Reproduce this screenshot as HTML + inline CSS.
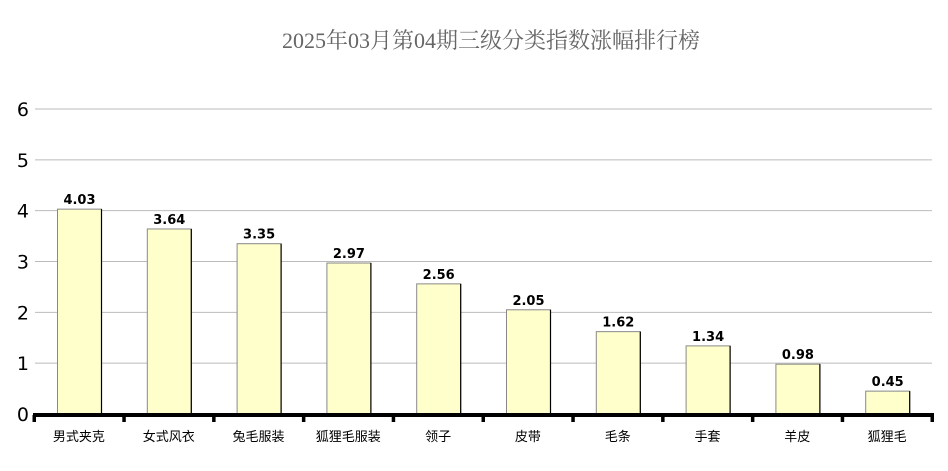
<!DOCTYPE html>
<html><head><meta charset="utf-8"><style>
body{margin:0;background:#fff;}
svg{display:block;font-family:"Liberation Sans","Noto Sans CJK SC",sans-serif;}
</style></head><body>
<svg width="948" height="471">
<text x="491" y="48" text-anchor="middle" font-size="22" fill="#666" font-family="'Liberation Serif','Noto Serif CJK SC',serif">2025年03月第04期三级分类指数涨幅排行榜</text>
<g id="grid"></g><g id="bars"></g><g id="axis"></g>
</svg>
<script>
const categories=["男式夹克","女式风衣","兔毛服装","狐狸毛服装","领子","皮带","毛条","手套","羊皮","狐狸毛"];
const values=[4.03,3.64,3.35,2.97,2.56,2.05,1.62,1.34,0.98,0.45];
const yTicks=[0,1,2,3,4,5,6];
const NS="http://www.w3.org/2000/svg";
const x0=34,x1=932,y0=414,yTop=109,yMax=6;
const y=v=>y0-(y0-yTop)*v/yMax;
const cw=(x1-x0)/categories.length;
function mk(t,a,p){const e=document.createElementNS(NS,t);for(const k in a)e.setAttribute(k,a[k]);p.appendChild(e);return e;}
const grid=document.getElementById('grid'),bars=document.getElementById('bars'),axis=document.getElementById('axis');
yTicks.forEach(t=>{
 if(t>0){const l=mk('line',{x1:35,x2:x1,y1:y(t),y2:y(t),stroke:'#bbb','stroke-width':1},grid);
 
 }
 const tx=mk('text',{x:29,y:y(t)+7,'text-anchor':'end','font-size':19,fill:'#000','font-family':"'DejaVu Sans',sans-serif"},grid);
 tx.textContent=t;
 
 
});
values.forEach((v,i)=>{
 const bx=x0+i*cw+23.5,bw=44;
 const r=mk('rect',{x:bx,y:y(v),width:bw,height:y0-y(v),fill:'#ffffcc',stroke:'#888','stroke-width':1},bars);
 
 
 const e=mk('line',{x1:bx+bw,x2:bx+bw,y1:y(v),y2:y0,stroke:'#000','stroke-width':1.2},bars);
 
 
 const lb=mk('text',{x:bx+bw/2,y:y(v)-5,'text-anchor':'middle','font-size':13,'font-weight':'bold',fill:'#000','font-family':"'DejaVu Sans',sans-serif"},bars);
 lb.textContent=v.toFixed(2);
 
 
 const cl=mk('text',{x:x0+(i+0.5)*cw,y:441,'text-anchor':'middle','font-size':13,fill:'#000'},axis);
 cl.textContent=categories[i];
 
 
});
const ax=mk('rect',{x:33,y:413,width:x1-33+2,height:4,fill:'#000'},axis);


for(let i=0;i<=categories.length;i++){
 const tk=mk('rect',{x:x0+i*cw-1.5,y:415,width:3.5,height:7,fill:'#000'},axis);
 
 
}
</script>
</body></html>
